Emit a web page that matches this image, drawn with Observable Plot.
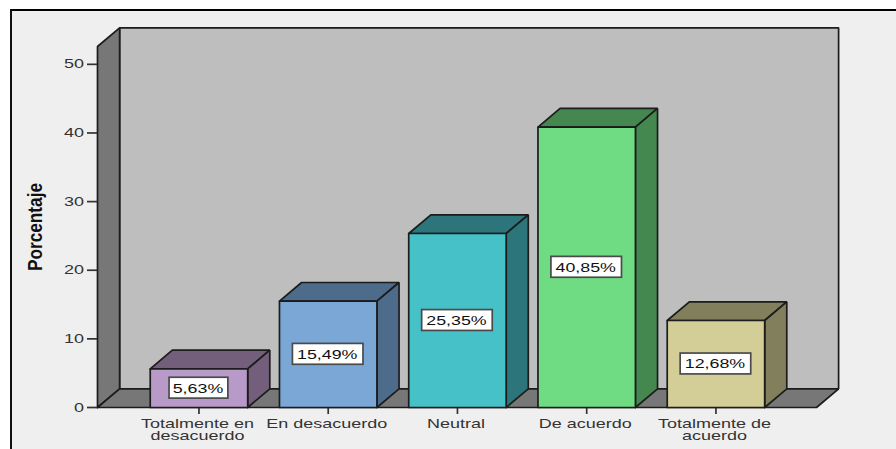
<!DOCTYPE html>
<html>
<head>
<meta charset="utf-8">
<script src="https://cdn.jsdelivr.net/npm/d3@7"></script>
<script src="https://cdn.jsdelivr.net/npm/@observablehq/plot@0.6"></script>
<style>
  html, body { margin: 0; padding: 0; background: #fff; overflow: hidden; }
  #panel {
    position: absolute; left: 10px; top: 9px; width: 900px; height: 460px;
    background: #efefef; border-left: 2px solid #111; border-top: 2.5px solid #000;
  }
  #chart { position: absolute; left: 0; top: 0; width: 896px; height: 449px; }
  #chart svg { background: transparent !important; display: block; }
</style>
</head>
<body>
<div id="panel"></div>
<div id="chart"></div>
<script>
// Survey responses, percentage per category
const categories = [
  "Totalmente en\ndesacuerdo", "En desacuerdo", "Neutral", "De acuerdo", "Totalmente de\nacuerdo"
];
const values = [5.63, 15.49, 25.35, 40.85, 12.68];
const labels = ["5,63%", "15,49%", "25,35%", "40,85%", "12,68%"];
const frontColors = ["#b89ac9", "#7ba7d6", "#46c1c8", "#6fdc83", "#d3cd97"];
const shadeColors = ["#735f7c", "#4d6b8b", "#2b757b", "#44884f", "#827f5c"];
const yTicks = [0, 10, 20, 30, 40, 50];

// Oblique projection: how far the back plane is shifted, in data units
const depthX = 0.171;
const depthY = 2.72;
const barHalf = 0.377;
const wallTop = 52.6;
const xMin = -0.785, xMax = 4.778;
const ink = "#1c1c1c";

const indices = d3.range(values.length);

// Each face is a closed ring of data points, drawn with the line mark
const ring = (face, pts) => [...pts, pts[0]].map(([x, y]) => ({x, y, face: face.id, fill: face.fill}));

const walls = [
  ...ring({id: "back", fill: "#bebebe"}, [
    [xMin + depthX, depthY], [xMax + depthX, depthY],
    [xMax + depthX, wallTop + depthY], [xMin + depthX, wallTop + depthY]
  ]),
  ...ring({id: "left", fill: "#777777"}, [
    [xMin, 0], [xMin + depthX, depthY], [xMin + depthX, wallTop + depthY], [xMin, wallTop]
  ]),
  ...ring({id: "floor", fill: "#777777"}, [
    [xMin, 0], [xMax, 0], [xMax + depthX, depthY], [xMin + depthX, depthY]
  ])
];

const barFaces = indices.flatMap(i => {
  const l = i - barHalf, r = i + barHalf, v = values[i];
  return [
    ...ring({id: `top${i}`, fill: shadeColors[i]}, [
      [l, v], [r, v], [r + depthX, v + depthY], [l + depthX, v + depthY]
    ]),
    ...ring({id: `side${i}`, fill: shadeColors[i]}, [
      [r, 0], [r + depthX, depthY], [r + depthX, v + depthY], [r, v]
    ]),
    ...ring({id: `front${i}`, fill: frontColors[i]}, [
      [l, 0], [r, 0], [r, v], [l, v]
    ])
  ];
});

const faceMark = data => Plot.line(data, {
  x: "x", y: "y", z: "face",
  fill: d => d.fill,
  stroke: ink, strokeWidth: 1.7,
  strokeLinejoin: "miter", curve: "linear"
});

const chart = Plot.plot({
  width: 896, height: 449,
  marginLeft: 97, marginRight: 80, marginTop: 46, marginBottom: 42,
  style: {fontFamily: "'Liberation Sans', Arial, sans-serif", color: "#333", background: "transparent"},
  x: {domain: [xMin, xMax]},
  y: {domain: [0, wallTop]},
  color: {type: "identity"},
  marks: [
    faceMark(walls),
    Plot.axisY({
      ticks: yTicks, tickSize: 10, tickPadding: 3.5, fontSize: 12.5,
      stroke: "#333", strokeWidth: 1.7, label: null, fill: "#333"
    }),
    Plot.axisX({
      ticks: indices, tickSize: 7, tickPadding: 5, fontSize: 12.5, lineHeight: 0.96,
      tickFormat: i => categories[i], textOverflow: null,
      stroke: "#333", strokeWidth: 1.7, label: null, fill: "#333"
    }),
    faceMark(barFaces),
    Plot.rect(indices, {
      x1: i => i - labels[i].length * 0.0455,
      x2: i => i + labels[i].length * 0.0455,
      y1: i => values[i] / 2 - 1.52,
      y2: i => values[i] / 2 + 1.52,
      fill: "#fff", stroke: "#4a4a4a", strokeWidth: 1.7
    }),
    Plot.text(indices, {
      x: i => i, y: i => values[i] / 2, text: i => labels[i],
      dx: -1, fontSize: 13.5, fill: "#111", className: "widened"
    }),
    Plot.text(["Porcentaje"], {
      frameAnchor: "left", textAnchor: "middle", dx: -62, rotate: -90,
      fontWeight: "bold", fontSize: 21, fill: "#111", className: "upright"
    })
  ]
});

// Text is set wider than the default face; the rotated axis title is condensed along its run
d3.select(chart).selectAll("text").each(function () {
  const current = this.getAttribute("transform") || "";
  const inValues = this.closest(".widened");
  const k = this.closest(".upright") ? 0.82 : inValues ? 1.32 : 1.44;
  // Category labels sit slightly left of their tick
  const nudge = this.closest('[aria-label="x-axis tick label"]') ? " translate(-1.5,0)" : "";
  this.setAttribute("transform", `${current}${nudge} scale(${k},1)`);
});

document.getElementById("chart").append(chart);
</script>
</body>
</html>
